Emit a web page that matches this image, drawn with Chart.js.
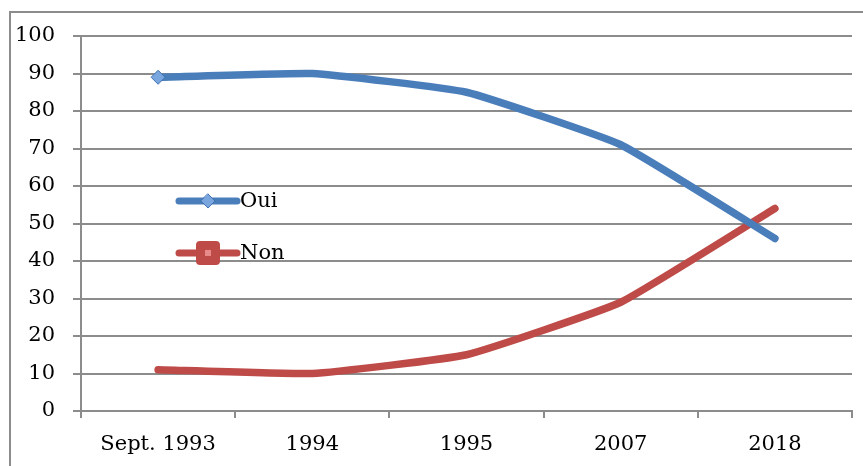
<!DOCTYPE html>
<html>
<head>
<meta charset="utf-8">
<script src="https://cdn.jsdelivr.net/npm/chart.js@4"></script>
<style>
  body { margin: 0; background: #ffffff; overflow: hidden; }
  #cadre { position: absolute; left: 9px; top: 11px; width: 900px; height: 500px; border: 2px solid #8c8c8c; box-sizing: border-box; }
  #zone { position: absolute; left: 0; top: 0; width: 863px; height: 466px; }
</style>
</head>
<body>
<div id="cadre"></div>
<div id="zone"><canvas id="graphique"></canvas></div>
<script>
// Données du graphique
const categories = ['Sept. 1993', '1994', '1995', '2007', '2018'];
const valeursOui = [89, 90, 85, 71, 46];
const valeursNon = [11, 10, 15, 29, 54];
const nomsSeries = ['Oui', 'Non'];

const BLEU = '#4a7ebb';
const ROUGE = '#be4b48';
const GRIS = '#8c8c8c';
const POLICE = "'DejaVu Serif', serif";

// Légende dessinée dans la zone du graphique
const legendeInterne = {
    id: 'legendeInterne',
    afterDraw(chart) {
        const ctx = chart.ctx;
        const zone = chart.chartArea;
        const x0 = zone.left + 98;
        const x1 = zone.left + 156;
        const lignes = [zone.top + 165, zone.top + 217];
        chart.data.datasets.forEach((ds, i) => {
            const y = lignes[i];
            ctx.save();
            ctx.strokeStyle = ds.borderColor;
            ctx.lineWidth = 7;
            ctx.lineCap = 'round';
            ctx.beginPath();
            ctx.moveTo(x0, y);
            ctx.lineTo(x1, y);
            ctx.stroke();
            const cx = (x0 + x1) / 2;
            if (i === 0) {
                ctx.fillStyle = '#7aa6e0';
                ctx.strokeStyle = '#3f70b0';
                ctx.lineWidth = 1;
                ctx.beginPath();
                ctx.moveTo(cx, y - 7);
                ctx.lineTo(cx + 7, y);
                ctx.lineTo(cx, y + 7);
                ctx.lineTo(cx - 7, y);
                ctx.closePath();
                ctx.fill();
                ctx.stroke();
            } else {
                ctx.fillStyle = ROUGE;
                ctx.beginPath();
                ctx.roundRect(cx - 12, y - 12, 24, 24, 4);
                ctx.fill();
                ctx.fillStyle = '#e88a88';
                ctx.fillRect(cx - 3, y - 3, 6, 6);
            }
            ctx.fillStyle = '#000000';
            ctx.font = '21px ' + POLICE;
            ctx.textBaseline = 'middle';
            ctx.textAlign = 'left';
            ctx.fillText(ds.label, x1 + 3, y + 1);
            ctx.restore();
        });
    }
};

document.addEventListener('DOMContentLoaded', function() {
    Chart.defaults.font.family = POLICE;
    Chart.defaults.font.size = 21;
    Chart.defaults.color = '#000000';

    const ctx = document.getElementById('graphique').getContext('2d');
    new Chart(ctx, {
        type: 'line',
        data: {
            labels: categories,
            datasets: [{
                label: nomsSeries[0],
                data: valeursOui,
                borderColor: BLEU,
                backgroundColor: '#7aa6e0',
                borderWidth: 7.5,
                tension: 0.12,
                borderCapStyle: 'round',
                borderJoinStyle: 'round',
                pointStyle: 'rectRot',
                pointRadius: [7, 0, 0, 0, 0],
                pointBorderColor: '#3f70b0',
                pointBorderWidth: 1,
                pointBackgroundColor: '#7aa6e0'
            }, {
                label: nomsSeries[1],
                data: valeursNon,
                borderColor: ROUGE,
                backgroundColor: ROUGE,
                borderWidth: 7.5,
                tension: 0.12,
                borderCapStyle: 'round',
                borderJoinStyle: 'round',
                pointRadius: 0
            }]
        },
        options: {
            responsive: true,
            maintainAspectRatio: false,
            animation: false,
            layout: { padding: { top: 36, right: 11, left: 0, bottom: 0 } },
            plugins: {
                legend: { display: false },
                tooltip: { enabled: false }
            },
            scales: {
                x: {
                    offset: true,
                    grid: {
                        offset: true,
                        drawOnChartArea: false,
                        drawTicks: true,
                        tickLength: 7,
                        color: GRIS,
                        lineWidth: 2
                    },
                    border: { color: GRIS, width: 2 },
                    ticks: { padding: 14, maxRotation: 0 },
                    afterFit: s => { s.height = 55; }
                },
                y: {
                    min: 0,
                    max: 100,
                    ticks: { stepSize: 10, padding: 18 },
                    grid: {
                        color: GRIS,
                        lineWidth: 2,
                        tickLength: 8
                    },
                    border: { color: GRIS, width: 2 },
                    afterFit: s => { s.width = 81; }
                }
            }
        },
        plugins: [legendeInterne]
    });
});
</script>
</body>
</html>
